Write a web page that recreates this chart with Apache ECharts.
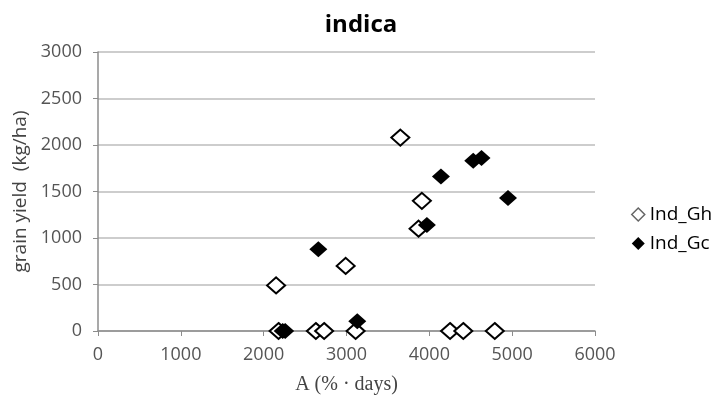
<!DOCTYPE html>
<html>
<head>
<meta charset="utf-8">
<script src="https://cdn.jsdelivr.net/npm/echarts@6/dist/echarts.min.js"></script>
<style>
  html, body { margin: 0; padding: 0; background: #fff; }
  #chart { width: 713px; height: 403px; }
</style>
</head>
<body>
<div id="chart"></div>
<script>
// 数据：A (% · days) 与 grain yield (kg/ha)
const seriesNames = ['Ind_Gh', 'Ind_Gc']
const ghA = [2150, 3650, 3910, 3870, 2990, 2180, 2630, 2730, 3110, 4250, 4410, 4790]
const ghYield = [490, 2080, 1400, 1100, 700, 0, 0, 0, 0, 0, 0, 0]
const gcA = [4530, 4630, 4140, 4950, 3970, 2660, 3130, 2230, 2260]
const gcYield = [1830, 1860, 1660, 1430, 1140, 880, 105, 0, 0]

const pairs = (xs, ys) => xs.map((x, i) => [x, ys[i]])

const labelFont = '"Open Sans", sans-serif'
const plain = v => String(v)

const chart = echarts.init(document.getElementById('chart'))
chart.setOption({
  animation: false,
  title: {
    text: 'indica',
    left: 356,
    textAlign: 'center',
    top: 8,
    textStyle: { fontFamily: labelFont, fontSize: 24, fontWeight: 'bold', color: '#000' }
  },
  legend: {
    orient: 'vertical',
    left: 626,
    top: 200,
    itemGap: 10,
    itemWidth: 13,
    itemHeight: 13,
    textStyle: { fontFamily: labelFont, fontSize: 19, color: '#000' },
    data: [
      { name: seriesNames[0], icon: 'diamond', itemStyle: { color: '#fff', borderColor: '#666', borderWidth: 1.5 } },
      { name: seriesNames[1], icon: 'diamond', itemStyle: { color: '#000' } }
    ]
  },
  grid: { left: 98, right: 118, top: 52, bottom: 72 },
  xAxis: {
    type: 'value',
    min: 0, max: 6000, interval: 1000,
    name: 'A (% · days)',
    nameLocation: 'middle',
    nameGap: 44,
    nameTextStyle: { fontFamily: '"Liberation Serif", serif', fontSize: 20, color: '#444' },
    axisLine: { lineStyle: { color: '#8c8c8c', width: 1.5 } },
    axisTick: { show: true, length: 5, lineStyle: { color: '#8c8c8c' } },
    axisLabel: { margin: 15, formatter: plain, fontFamily: labelFont, fontSize: 18, color: '#555' },
    splitLine: { show: false }
  },
  yAxis: {
    type: 'value',
    min: 0, max: 3000, interval: 500,
    name: 'grain yield  (kg/ha)',
    nameLocation: 'middle',
    nameRotate: 90,
    nameGap: 62,
    nameTextStyle: { fontFamily: labelFont, fontSize: 19, color: '#444' },
    axisLine: { show: true, lineStyle: { color: '#8c8c8c', width: 1.5 } },
    axisTick: { show: true, length: 5, lineStyle: { color: '#8c8c8c' } },
    axisLabel: { margin: 16, formatter: plain, fontFamily: labelFont, fontSize: 18, color: '#555' },
    splitLine: { lineStyle: { color: '#bdbdbd', width: 1.5 } }
  },
  series: [
    {
      name: seriesNames[0],
      type: 'scatter',
      symbol: 'diamond',
      symbolSize: [18, 16],
      data: pairs(ghA, ghYield),
      itemStyle: { color: '#fff', borderColor: '#000', borderWidth: 2, opacity: 1 }
    },
    {
      name: seriesNames[1],
      type: 'scatter',
      symbol: 'diamond',
      symbolSize: [18, 16],
      data: pairs(gcA, gcYield),
      itemStyle: { color: '#000', opacity: 1 }
    }
  ]
})
</script>
</body>
</html>
